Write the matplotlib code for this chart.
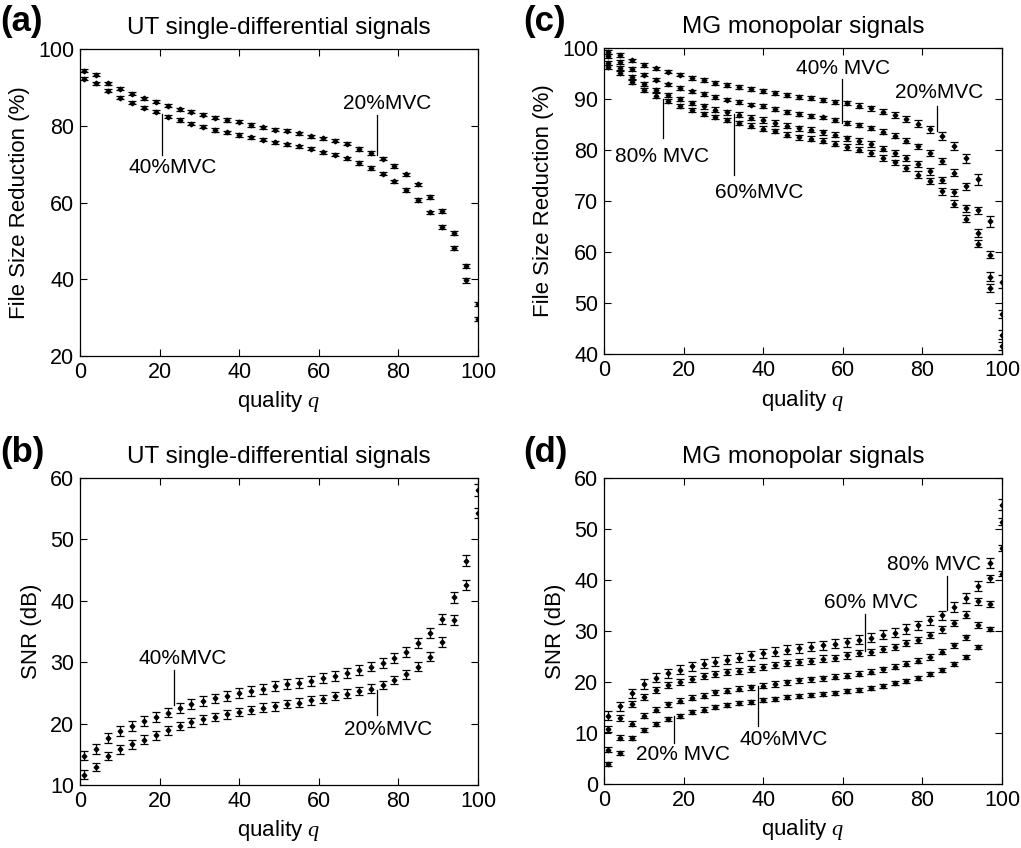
import matplotlib
matplotlib.use("Agg")
import matplotlib.pyplot as plt

plt.rcParams['font.family'] = ['Liberation Sans', 'DejaVu Sans']
plt.rcParams['mathtext.fontset'] = 'custom'
plt.rcParams['mathtext.it'] = 'Liberation Serif:italic'
plt.rcParams['mathtext.rm'] = 'Liberation Sans'

# quality settings
q = [1, 4, 7, 10, 13, 16, 19, 22, 25, 28, 31, 34, 37, 40, 43, 46, 49, 52,
     55, 58, 61, 64, 67, 70, 73, 76, 79, 82, 85, 88, 91, 94, 97, 100]

# (a) UT single-differential, file size reduction (%)
ut_fsr_20 = [94.3, 93.3, 91.1, 89.7, 88.3, 87.2, 86.3, 85.2, 84.3, 83.7, 82.9, 82.1,
             81.5, 81.0, 80.2, 79.6, 79.0, 78.7, 78.1, 77.3, 76.7, 76.1, 75.3, 74.0,
             72.9, 71.4, 69.5, 67.3, 64.7, 61.5, 57.7, 52.1, 43.5, 33.5]
ut_fsr_40 = [92.3, 91.1, 89.1, 87.3, 86.0, 84.7, 83.7, 82.4, 81.5, 80.5, 79.7, 78.9,
             78.3, 77.6, 77.0, 76.3, 75.7, 75.2, 74.6, 74.0, 73.1, 72.4, 71.5, 70.3,
             69.0, 67.5, 65.5, 63.2, 60.7, 57.4, 53.6, 48.1, 39.7, 29.6]
ut_fsr_20_err = [0.4, 0.4, 0.4, 0.4, 0.4, 0.4, 0.4, 0.4, 0.4, 0.4, 0.4, 0.4,
                 0.4, 0.4, 0.4, 0.4, 0.4, 0.4, 0.4, 0.4, 0.4, 0.4, 0.4, 0.45,
                 0.45, 0.45, 0.45, 0.5, 0.5, 0.5, 0.5, 0.5, 0.55, 0.55]
ut_fsr_40_err = [0.4, 0.4, 0.4, 0.4, 0.4, 0.4, 0.4, 0.4, 0.4, 0.4, 0.4, 0.4,
                 0.4, 0.4, 0.4, 0.4, 0.4, 0.4, 0.4, 0.4, 0.4, 0.4, 0.4, 0.45,
                 0.45, 0.45, 0.45, 0.5, 0.5, 0.5, 0.5, 0.5, 0.55, 0.55]

# (b) UT single-differential, SNR (dB)
ut_snr_40 = [14.8, 15.9, 17.7, 18.8, 19.6, 20.4, 21.1, 21.8, 22.6, 23.2, 23.7, 24.1,
             24.5, 25.0, 25.3, 25.7, 26.1, 26.4, 26.6, 27.0, 27.4, 27.8, 28.3, 28.7,
             29.3, 29.9, 30.7, 31.7, 33.1, 34.8, 37.0, 40.6, 46.5, 58.1]
ut_snr_20 = [11.7, 12.9, 14.7, 15.8, 16.6, 17.4, 18.1, 18.9, 19.6, 20.2, 20.7, 21.1,
             21.5, 21.9, 22.2, 22.6, 22.8, 23.2, 23.4, 23.8, 24.0, 24.5, 24.9, 25.3,
             25.7, 26.3, 27.1, 28.0, 29.3, 30.9, 33.3, 36.9, 42.6, 54.3]
ut_snr_40_err = [0.8, 0.8, 0.8, 0.8, 0.8, 0.8, 0.8, 0.8, 0.8, 0.8, 0.8, 0.8,
                 0.8, 0.8, 0.8, 0.8, 0.8, 0.8, 0.8, 0.8, 0.8, 0.8, 0.8, 0.8,
                 0.8, 0.8, 0.8, 0.8, 0.85, 0.85, 0.85, 0.9, 0.9, 0.95]
ut_snr_20_err = [0.7, 0.7, 0.7, 0.7, 0.7, 0.7, 0.7, 0.7, 0.7, 0.7, 0.7, 0.7,
                 0.7, 0.7, 0.7, 0.7, 0.7, 0.7, 0.7, 0.7, 0.7, 0.7, 0.7, 0.7,
                 0.7, 0.7, 0.7, 0.7, 0.75, 0.75, 0.75, 0.8, 0.8, 0.85]

# (c) MG monopolar, file size reduction (%)
mg_fsr_20 = [99.2, 98.6, 97.6, 96.7, 96.0, 95.4, 94.8, 94.1, 93.7, 93.1, 92.8, 92.4,
             92.0, 91.6, 91.2, 90.8, 90.4, 90.2, 89.9, 89.4, 89.2, 88.7, 88.2, 87.5,
             86.9, 86.1, 85.2, 84.1, 82.7, 80.8, 78.4, 74.3, 66.0, 54.2]
mg_fsr_40 = [98.5, 97.3, 95.9, 94.8, 93.8, 92.9, 92.2, 91.5, 91.0, 90.4, 89.9, 89.4,
             88.9, 88.6, 88.0, 87.5, 87.1, 86.7, 86.4, 85.9, 85.3, 84.9, 84.3, 83.6,
             82.8, 81.8, 80.7, 79.4, 77.8, 75.6, 72.9, 68.2, 59.5, 47.9]
mg_fsr_60 = [97.1, 96.1, 94.3, 92.9, 91.8, 90.8, 90.0, 89.2, 88.6, 87.9, 87.4, 86.9,
             86.3, 85.9, 85.3, 84.8, 84.3, 84.0, 83.5, 83.0, 82.3, 81.8, 81.2, 80.3,
             79.4, 78.4, 77.3, 75.8, 74.1, 71.7, 68.6, 63.7, 55.2, 43.8]
mg_fsr_80 = [96.3, 95.2, 93.3, 91.8, 90.7, 89.7, 88.7, 87.9, 87.1, 86.5, 85.9, 85.3,
             84.8, 84.2, 83.7, 83.0, 82.5, 82.2, 81.8, 81.2, 80.6, 80.1, 79.4, 78.5,
             77.6, 76.5, 75.2, 73.9, 71.9, 69.5, 66.5, 61.6, 52.9, 41.5]
mg_fsr_20_err = [0.35, 0.35, 0.35, 0.35, 0.35, 0.35, 0.35, 0.35, 0.35, 0.35, 0.35, 0.35,
                 0.35, 0.35, 0.35, 0.4, 0.4, 0.4, 0.4, 0.45, 0.45, 0.45, 0.5, 0.5,
                 0.55, 0.6, 0.65, 0.7, 0.75, 0.8, 0.9, 1.1, 1.1, 1.3]
mg_fsr_40_err = [0.35, 0.35, 0.35, 0.35, 0.35, 0.35, 0.35, 0.35, 0.35, 0.35, 0.35, 0.35,
                 0.35, 0.35, 0.35, 0.35, 0.35, 0.35, 0.35, 0.4, 0.4, 0.4, 0.4, 0.45,
                 0.45, 0.5, 0.5, 0.55, 0.6, 0.6, 0.65, 0.7, 0.75, 0.8]
mg_fsr_60_err = [0.4, 0.4, 0.4, 0.4, 0.4, 0.45, 0.45, 0.45, 0.45, 0.45, 0.45, 0.5,
                 0.5, 0.5, 0.5, 0.5, 0.5, 0.5, 0.5, 0.5, 0.55, 0.55, 0.55, 0.55,
                 0.6, 0.6, 0.6, 0.65, 0.65, 0.7, 0.7, 0.75, 0.8, 0.85]
mg_fsr_80_err = [0.4, 0.4, 0.4, 0.4, 0.4, 0.4, 0.4, 0.4, 0.4, 0.45, 0.45, 0.45,
                 0.45, 0.45, 0.45, 0.5, 0.5, 0.5, 0.5, 0.5, 0.5, 0.55, 0.55, 0.55,
                 0.55, 0.6, 0.6, 0.6, 0.65, 0.65, 0.7, 0.7, 0.75, 0.8]

# (d) MG monopolar, SNR (dB)
mg_snr_80 = [13.4, 15.2, 17.8, 19.6, 20.8, 21.7, 22.4, 23.1, 23.6, 24.0, 24.4, 24.8,
             25.2, 25.6, 25.9, 26.3, 26.6, 26.9, 27.2, 27.5, 27.8, 28.3, 28.7, 29.3,
             29.7, 30.4, 31.1, 32.1, 33.1, 34.7, 36.5, 38.8, 43.3, 54.8]
mg_snr_60 = [10.7, 13.0, 15.6, 17.1, 18.4, 19.4, 20.0, 20.5, 21.1, 21.6, 21.9, 22.2,
             22.6, 23.0, 23.4, 23.7, 24.0, 24.2, 24.6, 24.7, 25.2, 25.6, 25.9, 26.5,
             26.9, 27.6, 28.3, 29.3, 30.3, 31.6, 33.2, 35.8, 40.3, 51.4]
mg_snr_40 = [6.7, 9.1, 11.8, 13.4, 14.6, 15.6, 16.3, 16.9, 17.3, 18.0, 18.3, 18.7,
             19.0, 19.3, 19.6, 19.9, 20.3, 20.5, 20.7, 21.0, 21.2, 21.6, 22.0, 22.5,
             23.0, 23.6, 24.2, 24.9, 25.9, 27.2, 28.8, 31.2, 35.3, 46.3]
mg_snr_20 = [4.0, 6.1, 9.0, 10.6, 11.8, 12.7, 13.3, 14.1, 14.6, 15.1, 15.4, 15.8,
             16.1, 16.4, 16.6, 17.0, 17.2, 17.4, 17.7, 17.9, 18.2, 18.5, 18.9, 19.3,
             19.8, 20.2, 20.8, 21.6, 22.4, 23.6, 24.9, 26.9, 30.4, 41.2]
mg_snr_80_err = [0.9, 0.9, 0.9, 0.9, 0.9, 0.9, 0.9, 0.9, 0.9, 0.9, 0.9, 0.9,
                 0.9, 0.9, 0.9, 0.9, 0.9, 0.9, 0.9, 0.9, 0.9, 0.9, 0.9, 0.9,
                 0.9, 0.9, 0.9, 0.9, 0.9, 0.95, 0.95, 1.0, 1.0, 1.0]
mg_snr_60_err = [0.6, 0.6, 0.6, 0.6, 0.6, 0.6, 0.6, 0.6, 0.6, 0.6, 0.6, 0.6,
                 0.6, 0.6, 0.6, 0.6, 0.6, 0.6, 0.6, 0.6, 0.6, 0.6, 0.6, 0.6,
                 0.6, 0.6, 0.6, 0.6, 0.6, 0.6, 0.65, 0.65, 0.7, 0.7]
mg_snr_40_err = [0.5, 0.5, 0.5, 0.5, 0.5, 0.5, 0.5, 0.5, 0.5, 0.5, 0.5, 0.5,
                 0.5, 0.5, 0.5, 0.5, 0.5, 0.5, 0.5, 0.5, 0.5, 0.5, 0.5, 0.5,
                 0.5, 0.5, 0.5, 0.5, 0.5, 0.5, 0.5, 0.55, 0.55, 0.6]
mg_snr_20_err = [0.4, 0.4, 0.4, 0.4, 0.4, 0.4, 0.4, 0.4, 0.4, 0.4, 0.4, 0.4,
                 0.4, 0.4, 0.4, 0.4, 0.4, 0.4, 0.4, 0.4, 0.4, 0.4, 0.4, 0.4,
                 0.4, 0.4, 0.4, 0.4, 0.4, 0.4, 0.4, 0.45, 0.45, 0.5]

FS = 15.5


def draw_series(ax, y, err):
    ax.errorbar(q, y, yerr=err, fmt='D', color='black', markersize=2.4,
                elinewidth=0.9, capsize=3.2, capthick=0.9)


def style_axes(ax, ylim, yticks, ylabel, title):
    ax.set_xlim(0, 100)
    ax.set_ylim(*ylim)
    ax.set_xticks([0, 20, 40, 60, 80, 100])
    ax.set_yticks(yticks)
    ax.tick_params(direction='in', length=5, width=0.8, top=True, right=True,
                   labelsize=FS, pad=4)
    for s in ax.spines.values():
        s.set_linewidth(0.9)
    ax.set_xlabel(r'quality $q$', fontsize=FS + 0.5, labelpad=5)
    ax.set_ylabel(ylabel, fontsize=FS + 0.5, labelpad=6)
    ax.set_title(title, fontsize=17.5, pad=11)


def mark(ax, x, y0, y1, label, tx, ty):
    ax.plot([x, x], [y0, y1], color='black', lw=0.9)
    ax.text(tx, ty, label, fontsize=15, ha='center', va='center')


fig = plt.figure(figsize=(10.21, 8.48), dpi=100)
ax_a = fig.add_axes([0.0784, 0.5802, 0.3898, 0.3620])
ax_c = fig.add_axes([0.5916, 0.5825, 0.3898, 0.3608])
ax_b = fig.add_axes([0.0784, 0.0743, 0.3898, 0.3620])
ax_d = fig.add_axes([0.5916, 0.0755, 0.3898, 0.3608])

# (a)
draw_series(ax_a, ut_fsr_20, ut_fsr_20_err)
draw_series(ax_a, ut_fsr_40, ut_fsr_40_err)
style_axes(ax_a, (20, 100), [20, 40, 60, 80, 100], 'File Size Reduction (%)',
           'UT single-differential signals')
mark(ax_a, 20.5, 83.1, 72.4, '40%MVC', 23.4, 69.0)
mark(ax_a, 74.5, 82.9, 72.4, '20%MVC', 77.2, 85.7)

# (c)
draw_series(ax_c, mg_fsr_20, mg_fsr_20_err)
draw_series(ax_c, mg_fsr_40, mg_fsr_40_err)
draw_series(ax_c, mg_fsr_60, mg_fsr_60_err)
draw_series(ax_c, mg_fsr_80, mg_fsr_80_err)
style_axes(ax_c, (40, 100), [40, 50, 60, 70, 80, 90, 100], 'File Size Reduction (%)',
           'MG monopolar signals')
mark(ax_c, 14.8, 90.0, 82.4, '80% MVC', 14.6, 78.8)
mark(ax_c, 32.7, 87.1, 75.2, '60%MVC', 39.1, 71.7)
mark(ax_c, 59.7, 93.9, 85.4, '40% MVC', 60.1, 95.9)
mark(ax_c, 83.6, 88.6, 83.7, '20%MVC', 84.1, 91.3)

# (b)
draw_series(ax_b, ut_snr_40, ut_snr_40_err)
draw_series(ax_b, ut_snr_20, ut_snr_20_err)
style_axes(ax_b, (10, 60), [10, 20, 30, 40, 50, 60], 'SNR (dB)',
           'UT single-differential signals')
mark(ax_b, 23.6, 28.7, 23.0, '40%MVC', 25.8, 30.6)
mark(ax_b, 74.5, 25.5, 21.4, '20%MVC', 77.4, 19.0)

# (d)
draw_series(ax_d, mg_snr_80, mg_snr_80_err)
draw_series(ax_d, mg_snr_60, mg_snr_60_err)
draw_series(ax_d, mg_snr_40, mg_snr_40_err)
draw_series(ax_d, mg_snr_20, mg_snr_20_err)
style_axes(ax_d, (0, 60), [0, 10, 20, 30, 40, 50, 60], 'SNR (dB)',
           'MG monopolar signals')
mark(ax_d, 17.5, 13.3, 8.0, '20% MVC', 19.8, 5.75)
mark(ax_d, 38.6, 19.2, 11.3, '40%MVC', 45.1, 8.7)
mark(ax_d, 65.6, 33.4, 26.0, '60% MVC', 67.1, 35.5)
mark(ax_d, 86.3, 40.8, 34.2, '80% MVC', 82.9, 43.0)

# panel letters
for lab, x, y in [('(a)', 0.0, 0.975), ('(c)', 0.512, 0.975),
                  ('(b)', 0.0, 0.466), ('(d)', 0.512, 0.466)]:
    fig.text(x, y, lab, fontsize=25, fontweight='bold', ha='left', va='center')

fig.savefig('out.png', dpi=100)
